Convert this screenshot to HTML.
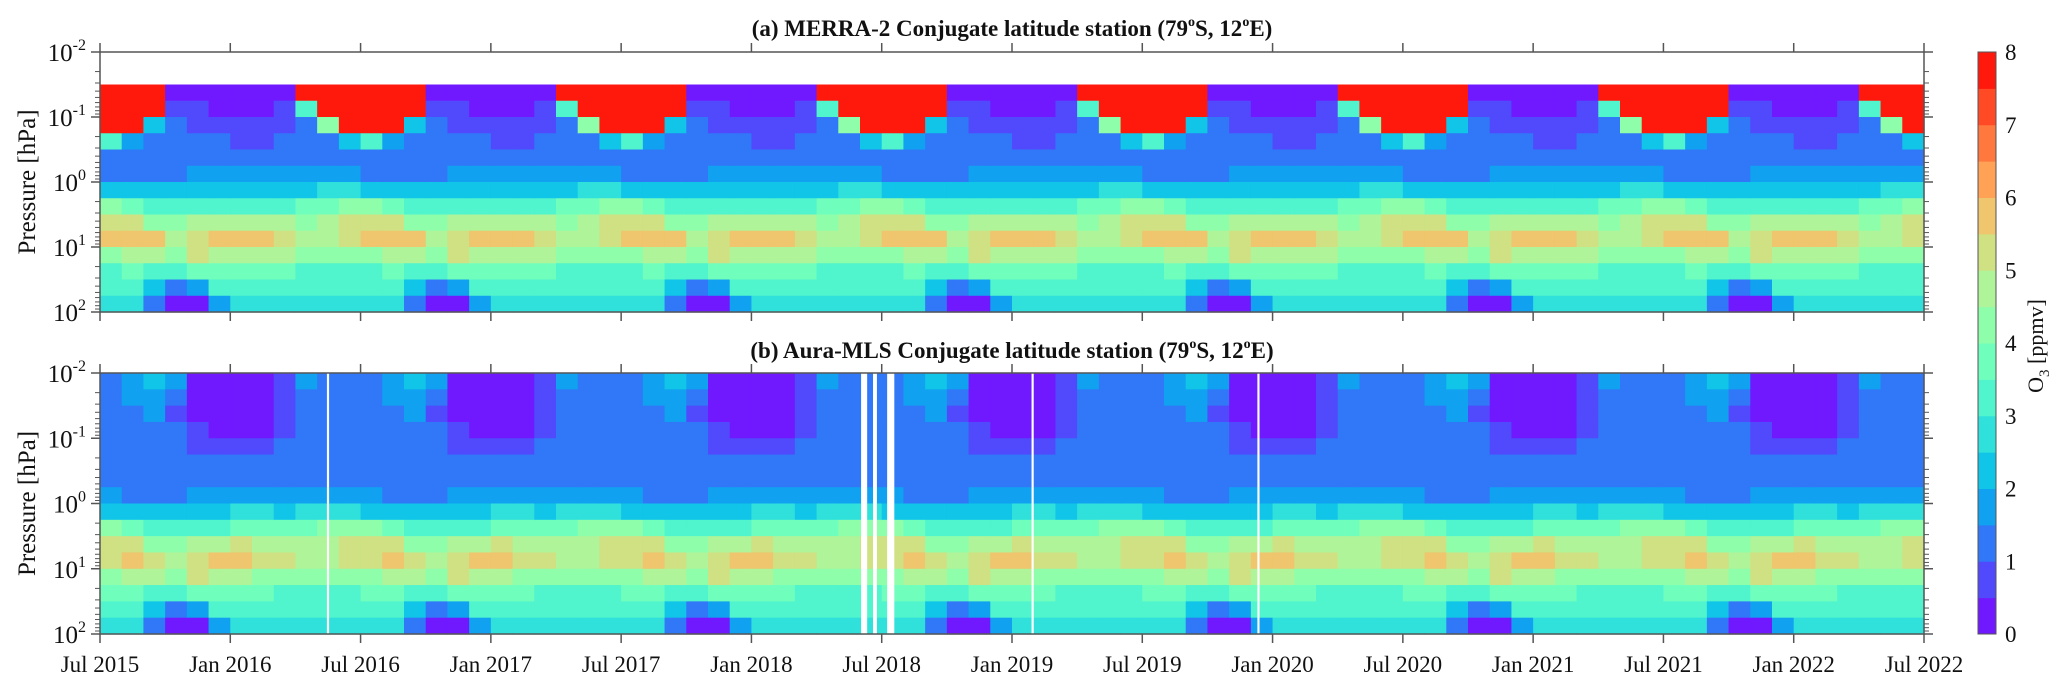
<!DOCTYPE html>
<html><head><meta charset="utf-8">
<style>
html,body{margin:0;padding:0;background:#fff;}
svg{display:block;font-family:"Liberation Serif",serif;}
</style></head>
<body>
<svg id="chart" width="2067" height="692" viewBox="0 0 2067 692" xmlns="http://www.w3.org/2000/svg">
<g id="layer"></g>
</svg>
<script>
// ---- data ----
// calendar-month profiles (Jan..Dec), 16 pressure layers from 0.01 hPa (top) to 100 hPa (bottom), O3 ppmv
const merraJan=[null,null,0.3,0.3,0.8,0.8,1.2,1.6,2.2,3.4,4.8,5.6,4.8,3.6,3.0,2.6];
const merraFeb=[null,null,0.3,0.3,0.8,0.8,1.2,1.5,2.2,3.4,4.8,5.6,4.6,3.6,3.0,2.6];
const merraMar=[null,null,0.3,0.6,0.8,1.2,1.3,1.6,2.2,3.3,4.5,5.2,4.5,3.6,3.0,2.8];
const merraApr=[null,null,8,3,1.2,1.2,1.3,1.6,2.4,3.6,4.4,4.6,4.0,3.4,3.0,2.6];
const merraMay=[null,null,8,8,4,1.4,1.3,1.8,2.6,3.8,4.8,4.8,4.0,3.4,3.0,2.8];
const merraJun=[null,null,8,8,8,2,1.3,1.6,2.6,4.0,5.2,5.2,4.2,3.4,3.0,2.8];
const merraJul=[null,null,8,8,8,3,1.2,1.4,2.4,4.0,5.4,5.6,4.4,3.4,3.0,2.8];
const merraAug=[null,null,8,8,8,1.5,1.2,1.4,2.2,3.6,5.0,5.8,4.6,3.6,3.0,2.8];
const merraSep=[null,null,8,8,2,1.3,1.2,1.4,2.0,3.2,4.4,5.6,4.6,3.4,2.2,1.2];
const merraOct=[null,null,0.3,0.6,1.0,1.2,1.2,1.4,2.0,3.2,4.2,4.8,4.4,3.2,1.2,0.4];
const merraNov=[null,null,0.3,0.6,0.8,1.0,1.2,1.5,2.1,3.4,4.6,5.4,5.0,3.6,1.6,0.4];
const merraDec=[null,null,0.3,0.3,0.8,1.0,1.2,1.6,2.2,3.4,4.8,5.6,4.8,3.6,3.0,1.6];

const mlsJan=[0.3,0.3,0.3,0.3,0.8,1.2,1.3,1.8,2.6,3.8,5.0,5.6,4.6,3.6,3.0,2.8];
const mlsFeb=[0.3,0.3,0.3,0.3,0.8,1.2,1.3,1.7,2.6,3.8,4.8,5.4,4.4,3.6,3.0,2.8];
const mlsMar=[0.6,0.6,0.6,0.8,1.0,1.2,1.3,1.6,2.4,3.6,4.6,5.0,4.2,3.4,3.0,2.8];
const mlsApr=[1.6,1.4,1.2,1.2,1.2,1.2,1.3,1.8,2.6,3.8,4.6,4.8,4.0,3.4,3.0,2.8];
const mlsMay=[1.4,1.2,1.2,1.2,1.2,1.2,1.3,1.8,2.8,4.0,4.8,4.8,4.0,3.4,3.0,2.8];
const mlsJun=[1.2,1.2,1.2,1.2,1.2,1.2,1.3,1.6,2.6,4.2,5.2,5.2,4.2,3.4,3.0,2.8];
const mlsJul=[1.2,1.2,1.2,1.2,1.2,1.2,1.2,1.5,2.4,4.2,5.4,5.4,4.4,3.6,3.0,2.8];
const mlsAug=[1.8,1.6,1.4,1.2,1.2,1.2,1.2,1.4,2.2,3.8,5.0,5.6,4.6,3.6,3.0,2.6];
const mlsSep=[2.2,1.8,1.5,1.3,1.2,1.2,1.2,1.4,2.0,3.4,4.4,5.4,4.6,3.4,2.2,1.2];
const mlsOct=[1.6,1.2,0.9,1.0,1.2,1.2,1.2,1.4,2.0,3.2,4.2,4.8,4.2,3.2,1.2,0.4];
const mlsNov=[0.3,0.3,0.3,0.6,0.9,1.2,1.2,1.5,2.1,3.4,4.6,5.4,5.0,3.6,1.6,0.4];
const mlsDec=[0.3,0.3,0.3,0.3,0.8,1.2,1.2,1.6,2.2,3.4,4.8,5.6,4.8,3.6,3.0,1.8];

const layerEdgesExp=[-2,-1.75,-1.5,-1.25,-1,-0.75,-0.5,-0.25,0,0.25,0.5,0.75,1,1.25,1.5,1.75,2];
const xTickLabels=["Jul 2015","Jan 2016","Jul 2016","Jan 2017","Jul 2017","Jan 2018","Jul 2018","Jan 2019","Jul 2019","Jan 2020","Jul 2020","Jan 2021","Jul 2021","Jan 2022","Jul 2022"];
const yTickExps=[-2,-1,0,1,2];
const cbTicks=[0,1,2,3,4,5,6,7,8];
// MLS data gaps (months since Jul 2015: start, width)
const gapStarts=[10.45,35.05,35.6,36.25,42.9,53.3];
const gapWidths=[0.1,0.28,0.18,0.33,0.1,0.1];

const merra=[merraJan,merraFeb,merraMar,merraApr,merraMay,merraJun,merraJul,merraAug,merraSep,merraOct,merraNov,merraDec];
const mls=[mlsJan,mlsFeb,mlsMar,mlsApr,mlsMay,mlsJun,mlsJul,mlsAug,mlsSep,mlsOct,mlsNov,mlsDec];

// ---- layout ----
const X0=100,X1=1924,NM=84;
const panels=[{top:52,bot:312,data:merra,title:"(a) MERRA-2 Conjugate latitude station (79",ty:36,name:"merra"},
              {top:373,bot:634,data:mls,title:"(b) Aura-MLS Conjugate latitude station (79",ty:358,name:"mls"}];
const NS="http://www.w3.org/2000/svg";
const root=document.getElementById('layer');
function mk(tag,attrs,parent){const e=document.createElementNS(NS,tag);for(const k in attrs)e.setAttribute(k,attrs[k]);(parent||root).appendChild(e);return e;}
function xScale(m){return X0+(X1-X0)*m/NM;}
function yScale(p,exp){return p.top+(p.bot-p.top)*(exp+2)/4;}
function color(v){
  let b=Math.floor(v/0.5);if(b<0)b=0;if(b>15)b=15;
  const x=(b+0.5)/16;
  let r=Math.abs(2*x-0.5),g=Math.sin(Math.PI*x),bl=Math.cos(Math.PI*x/2);
  r=Math.min(1,r);
  return `rgb(${Math.round(r*255)},${Math.round(g*255)},${Math.round(bl*255)})`;
}

panels.forEach(p=>{
  const g=mk('g',{});
  
  
  for(let m=0;m<NM;m++){
    const cal=(6+m)%12;
    const prof=p.data[cal];
    const xa=xScale(m),xb=xScale(m+1);
    for(let l=0;l<16;l++){
      if(prof[l]===null)continue;
      const r=mk('rect',{x:xa,y:yScale(p,layerEdgesExp[l]),width:xb-xa+0.6,height:yScale(p,layerEdgesExp[l+1])-yScale(p,layerEdgesExp[l])+0.6,fill:color(prof[l])},g);
      
      
    }
  }
  if(p.name==='mls'){
    for(let i=0;i<gapStarts.length;i++){
      const r=mk('rect',{x:xScale(gapStarts[i]),y:p.top,width:Math.max(2,xScale(gapStarts[i]+gapWidths[i])-xScale(gapStarts[i])),height:p.bot-p.top,fill:'#fff'},g);
      
      
    }
  }
  const bx=mk('rect',{x:X0,y:p.top,width:X1-X0,height:p.bot-p.top,fill:'none',stroke:'#555','stroke-width':1.5});
  
  
  xTickLabels.forEach((t,i)=>{
    const x=xScale(i*6);
    mk('line',{x1:x,x2:x,y1:p.top,y2:p.top-9,stroke:'#555','stroke-width':1.5});
    mk('line',{x1:x,x2:x,y1:p.bot,y2:p.bot+9,stroke:'#555','stroke-width':1.5});
    if(p.name==='mls'){
      const tx=mk('text',{x:x,y:672,'font-size':23,'text-anchor':'middle',fill:'#111'});
      tx.textContent=t;
      
      
    }
  });
  for(let e=-2;e<2;e++){
    for(let k=1;k<10;k++){
      const ex=e+Math.log10(k);
      const y=yScale(p,ex);
      const len=k===1?9:5;
      mk('line',{x1:X0,x2:X0-len,y1:y,y2:y,stroke:'#555','stroke-width':1});
      mk('line',{x1:X1,x2:X1+len,y1:y,y2:y,stroke:'#555','stroke-width':1});
    }
  }
  yTickExps.forEach(e=>{
    const y=yScale(p,e);
    mk('line',{x1:X0,x2:X0-9,y1:y,y2:y,stroke:'#555','stroke-width':1.5});
    mk('line',{x1:X1,x2:X1+9,y1:y,y2:y,stroke:'#555','stroke-width':1.5});
    const t=mk('text',{x:86,y:y+9,'font-size':25,'text-anchor':'end',fill:'#111'});
    
    
    const a=mk('tspan',{},t);a.textContent='10';
    const b=mk('tspan',{'font-size':16,dy:-11},t);b.textContent=String(e);
  });
  const yl=mk('text',{x:0,y:0,'font-size':25,'text-anchor':'middle',fill:'#111',transform:`translate(35,${(p.top+p.bot)/2}) rotate(-90)`});
  yl.textContent='Pressure [hPa]';
  
  
  const tt=mk('text',{x:(X0+X1)/2,y:p.ty,'font-size':23,'font-weight':'bold','text-anchor':'middle',fill:'#111'});
  
  
  const s1=mk('tspan',{},tt);s1.textContent=p.title;
  const s2=mk('tspan',{'font-size':14,dy:-10},tt);s2.textContent='o';
  const s3=mk('tspan',{dy:10},tt);s3.textContent='S, 12';
  const s4=mk('tspan',{'font-size':14,dy:-10},tt);s4.textContent='o';
  const s5=mk('tspan',{dy:10},tt);s5.textContent='E)';
});

const CB_T=52,CB_B=634,CB_X=1978,CB_W=18;
const cb=mk('g',{});


for(let b=0;b<16;b++){
  const v=b*0.5+0.25;
  const y0=CB_B-(CB_B-CB_T)*(b+1)/16;
  mk('rect',{x:CB_X,y:y0,width:CB_W,height:(CB_B-CB_T)/16+0.5,fill:color(v)},cb);
}
mk('rect',{x:CB_X,y:CB_T,width:CB_W,height:CB_B-CB_T,fill:'none',stroke:'#555','stroke-width':1},cb);
cbTicks.forEach(v=>{
  const y=CB_B-(CB_B-CB_T)*v/8;
  const t=mk('text',{x:2005,y:y+8,'font-size':23,fill:'#111'},cb);
  t.textContent=String(v);
  
  
});
const cl=mk('text',{x:0,y:0,'font-size':22,'text-anchor':'middle',fill:'#111',transform:'translate(2043,346) rotate(-90)'},cb);


const c1=mk('tspan',{},cl);c1.textContent='O';
const c2=mk('tspan',{'font-size':15,dy:6},cl);c2.textContent='3';
const c3=mk('tspan',{dy:-6},cl);c3.textContent=' [ppmv]';
</script>
</body></html>
